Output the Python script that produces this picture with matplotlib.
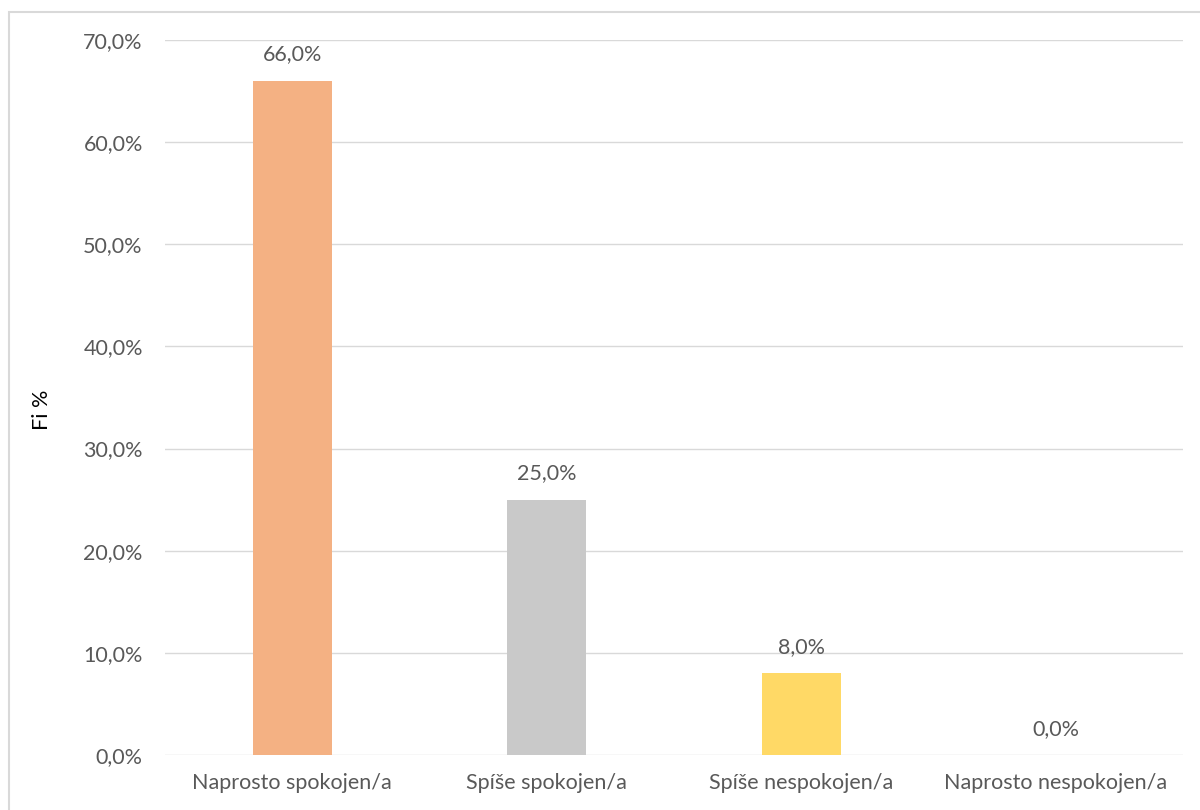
import matplotlib.pyplot as plt
import matplotlib.patches as mpatches
from matplotlib.ticker import FuncFormatter

categories = ["Naprosto spokojen/a", "Spíše spokojen/a", "Spíše nespokojen/a", "Naprosto nespokojen/a"]
values = [66.0, 25.0, 8.0, 0.0]
bar_colours = ["#F4B183", "#C9C9C9", "#FFD966", "#9DC3E6"]
ylabel = "Fi %"

plt.rcParams['font.family'] = ['Lato', 'DejaVu Sans']
text_grey = "#595959"

fig = plt.figure(figsize=(12, 8.1), dpi=100)
ax = fig.add_axes([0.1375, 0.0679, 0.8483, 0.8827])

x = range(len(categories))
ax.bar(x, values, width=0.31, color=bar_colours, zorder=3)

for xi, v in zip(x, values):
    ax.annotate("{:.1f}%".format(v).replace(".", ","), (xi, v), xytext=(0, 19),
                textcoords="offset points", ha="center", va="center",
                fontsize=15.5, color=text_grey)

ax.set_xlim(-0.5, len(categories) - 0.5)
ax.set_ylim(0, 70)
ax.set_yticks(range(0, 71, 10))
ax.yaxis.set_major_formatter(FuncFormatter(lambda v, p: "{:.1f}%".format(v).replace(".", ",")))
ax.set_xticks(list(x))
ax.set_xticklabels(categories)

ax.grid(axis="y", color="#D9D9D9", linewidth=1, zorder=0)
for s in ax.spines.values():
    s.set_visible(False)
ax.tick_params(length=0, labelsize=15.5, labelcolor=text_grey)
ax.tick_params(axis="y", pad=16)
ax.tick_params(axis="x", pad=13)

fig.text(42 / 1200, 1 - 410 / 810, ylabel, rotation=90, ha="center", va="center",
         fontsize=15.5, color="black")

# outer chart border (cropped at right and bottom)
fig.patches.append(mpatches.Rectangle((9 / 1200, -0.1), 1.2, 1.1 - 12 / 810,
                                      transform=fig.transFigure, fill=False,
                                      edgecolor="#D9D9D9", linewidth=1.5))

fig.savefig("out.png", dpi=100)
